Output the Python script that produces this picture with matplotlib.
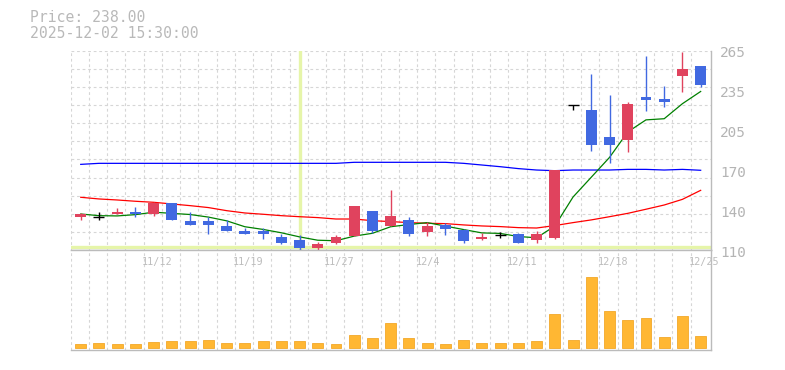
import numpy as np
import matplotlib.pyplot as plt
from matplotlib import transforms

# trading days (Nov 6 - Dec 25)
dates = ["11/6", "11/7", "11/10", "11/11", "11/12", "11/13", "11/14", "11/17", "11/18",
         "11/19", "11/20", "11/21", "11/25", "11/26", "11/27", "11/28", "12/1", "12/2",
         "12/3", "12/4", "12/5", "12/8", "12/9", "12/10", "12/11", "12/12", "12/15",
         "12/16", "12/17", "12/18", "12/19", "12/22", "12/23", "12/24", "12/25"]

opens = [136, 136, 138.3, 139.8, 138.3, 146.5, 132.5, 132.5, 128.7, 124.8, 124.8, 120.1,
         117.8, 111.8, 115.5, 120.9, 140.3, 128.9, 133.3, 124.0, 129.5, 125.6, 118.6, 121.7,
         122.5, 117.8, 119.4, 222.5, 218.9, 197.9, 195.6, 229.0, 227.4, 245.3, 253.1]
closes = [138, 136, 139.8, 138.0, 146.5, 133.3, 129.5, 129.5, 124.8, 122.5, 122.5, 115.5,
          111.8, 114.7, 120.1, 144.2, 124.8, 136.4, 122.5, 128.7, 126.3, 117.0, 120.1, 121.7,
          115.5, 122.5, 172.2, 222.5, 191.7, 191.7, 223.8, 226.7, 225.1, 250.8, 238.0]
highs = [139.0, 139.6, 142.7, 143.4, 147.3, 146.6, 139.6, 135.9, 133.3, 126.9, 126.9, 122.5,
         121.4, 116.2, 121.4, 144.2, 140.3, 156.7, 135.7, 131.8, 131.0, 126.3, 123.0, 124.0,
         123.3, 124.8, 172.2, 222.5, 246.9, 230.5, 225.1, 260.9, 237.5, 264.0, 253.1]
lows = [133.3, 133.3, 138.3, 135.9, 136.5, 133.3, 129.5, 122.5, 124.8, 122.5, 118.6, 114.7,
        109.2, 109.2, 114.7, 120.9, 123.0, 128.9, 120.9, 120.9, 121.7, 115.5, 117.8, 119.4,
        115.5, 115.5, 118.6, 219.1, 187.0, 177.7, 186.2, 218.1, 221.2, 232.9, 236.8]

ma_short = [138.0, 136.7, 136.5, 137.5, 139.4, 138.5, 137.6, 135.6, 132.7, 128.1, 126.0,
            123.4, 120.2, 117.6, 117.2, 120.8, 123.0, 128.1, 129.8, 131.3, 128.6, 125.9,
            123.3, 122.9, 120.5, 119.5, 128.6, 151.2, 166.6, 182.0, 201.8, 211.2, 212.1,
            223.8, 233.3]
ma_mid = [151.0, 149.7, 148.9, 147.9, 147.1, 145.8, 144.5, 143.0, 140.6, 138.8, 137.8,
          136.7, 135.9, 135.2, 134.1, 134.1, 132.8, 132.1, 131.3, 130.8, 130.5, 129.5,
          128.7, 128.2, 127.4, 127.1, 129.0, 131.3, 133.4, 135.9, 138.5, 141.7, 145.0,
          149.4, 156.4]
ma_long = [176.6] + [177.4] * 14 + [178.2] * 6 + [177.4, 176.1, 174.8, 173.3, 172.2, 171.7,
           172.2, 172.2, 172.2, 172.7, 172.7, 172.2, 172.7, 172.0]

volumes = [4000, 5000, 4000, 4000, 6000, 7000, 7000, 8000, 5000, 5000, 7000, 7000, 7000,
           5000, 4000, 13000, 10000, 25000, 10000, 5000, 4000, 8000, 5000, 5000, 5000, 7000,
           34000, 8000, 71000, 37000, 28000, 30000, 11000, 32000, 12000]

ytick_vals = np.linspace(110, 265, 6)
ytick_labels = ["110", "140", "170", "205", "235", "265"]
cursor_idx = 12
cursor_price = 112.0
stamp = "2025-12-02 15:30:00"

up_col = "#E0435E"
down_col = "#4169E1"
grid_col = "#d6d6d6"
frame_col = "#bbbbbb"
mono = "DejaVu Sans Mono"
dash = (0, (2.5, 2.5))

fig = plt.figure(figsize=(7.85, 3.7), dpi=100)
W, H = 785, 370
ax = fig.add_axes([70.7 / W, 1 - 250 / H, 640 / W, 199.3 / H])
axv = fig.add_axes([70.7 / W, 1 - 350 / H, 640 / W, 100 / H])

x = np.arange(len(dates))
xlim = (-0.55, len(dates) - 0.45)

# grid
gx = np.arange(len(dates)) - 0.55
ax.vlines(gx, 110, 265, color=grid_col, lw=0.8, linestyles=dash, zorder=0)
ax.hlines(np.linspace(110, 265, 12)[1:], xlim[0], xlim[1], color=grid_col, lw=0.8,
          linestyles=dash, zorder=0)

# cursor
ax.axvline(cursor_idx, color="#e6f5a9", lw=2.4, zorder=1)
ax.axhline(cursor_price, color="#e6f5a9", lw=2.4, zorder=1)

# moving averages
ax.plot(x, ma_long, color="#0000ff", lw=0.9, zorder=2)
ax.plot(x, ma_mid, color="#ff0000", lw=0.9, zorder=2)
ax.plot(x, ma_short, color="#008000", lw=0.9, zorder=2)

# candles
for i in x:
    o, c, h, l = opens[i], closes[i], highs[i], lows[i]
    if c > o:
        col = up_col
    elif c < o:
        col = down_col
    else:
        col = "black"
    ax.vlines(i, l, h, color=col, lw=1.0, zorder=3, clip_on=False)
    if c == o:
        ax.hlines(o, i - 0.3, i + 0.3, color=col, lw=1.0, zorder=3)
    else:
        ax.bar(i, abs(c - o), 0.6, bottom=min(o, c), color=col, zorder=3)

ax.set_xlim(*xlim)
ax.set_ylim(110, 265)
ax.set_xticks([])
ax.set_yticks([])
for s in ["left", "top"]:
    ax.spines[s].set_visible(False)
for s in ["right", "bottom"]:
    ax.spines[s].set_color(frame_col)
    ax.spines[s].set_linewidth(1.0)

ytrans = transforms.blended_transform_factory(ax.transAxes, ax.transData) + \
    transforms.ScaledTranslation(0, -2.6 / 100, fig.dpi_scale_trans)
for v, lab in zip(ytick_vals, ytick_labels):
    ax.text(1 + 9.5 / 640, v, lab, transform=ytrans, ha="left", va="center",
            family=mono, fontsize=10.4, color="#b4b4b4")

# volume panel
axv.vlines(gx, -2000, 98000, color=grid_col, lw=0.8, linestyles=dash, zorder=0)
axv.bar(x, volumes, 0.6, color="#FFB733", edgecolor="#F2A82A", lw=0.6, zorder=2)
axv.set_xlim(*xlim)
axv.set_ylim(-2000, 98000)
axv.set_xticks([])
axv.set_yticks([])
axv.spines["left"].set_visible(False)
for s in ["right", "bottom", "top"]:
    axv.spines[s].set_color(frame_col)
    axv.spines[s].set_linewidth(1.0)

xtrans = transforms.blended_transform_factory(axv.transData, axv.transAxes)
for i in range(4, len(dates), 5):
    axv.text(i - 0.65, 0.88, dates[i], transform=xtrans, ha="left", va="center",
             family=mono, fontsize=7.3, color="#bdbdbd")

fig.text(30 / W, 1 - 18 / H, f"Price: {closes[-1]:.2f}", ha="left", va="center",
         family=mono, fontsize=10.6, color="#b9b9b9")
fig.text(30 / W, 1 - 33 / H, stamp, ha="left", va="center",
         family=mono, fontsize=10.6, color="#b9b9b9")

fig.savefig("out.png", dpi=100)
